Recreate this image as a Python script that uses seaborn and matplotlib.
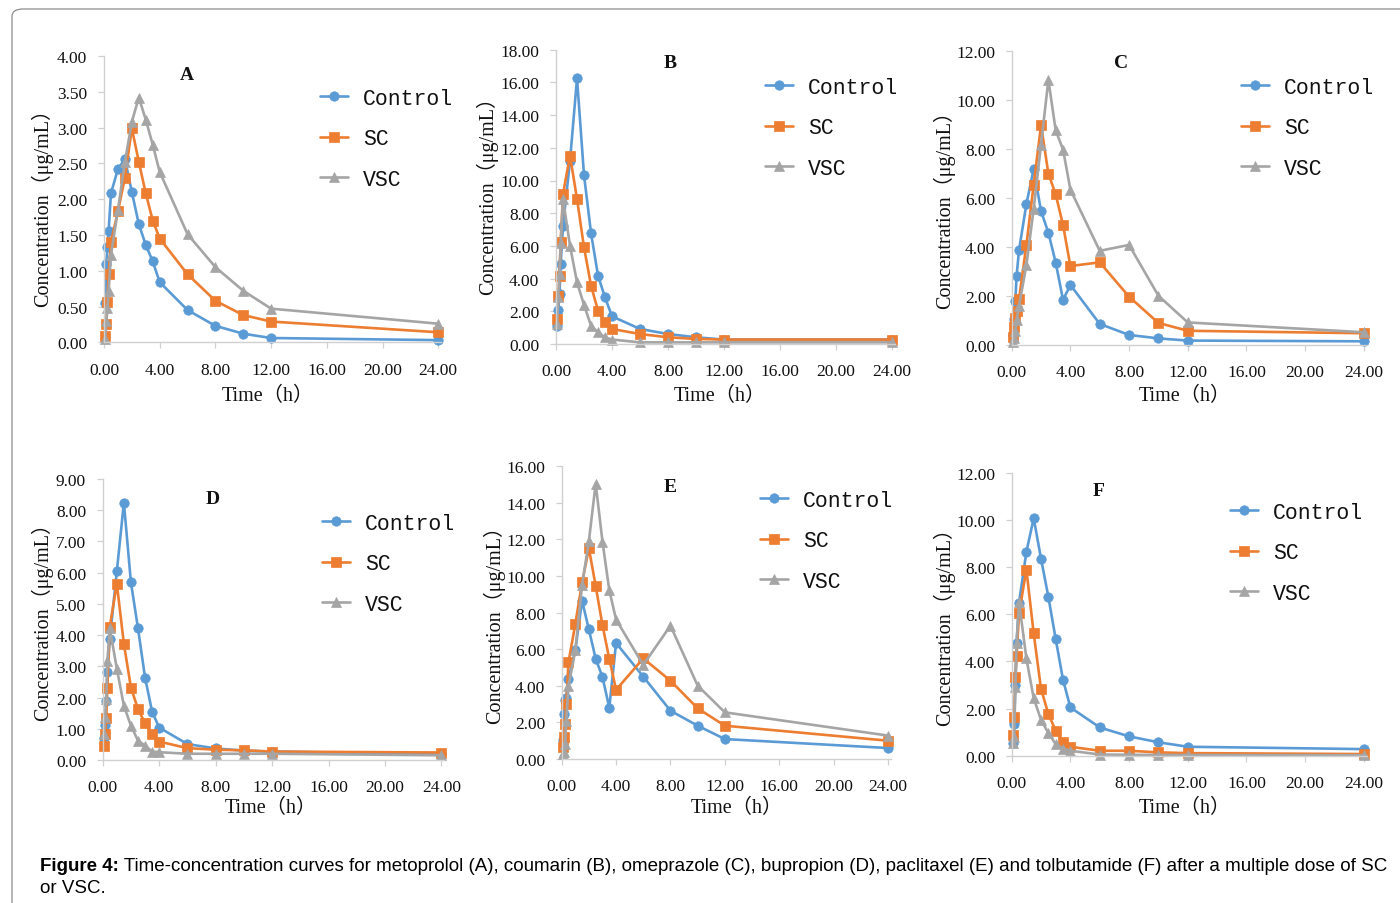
import numpy as np
import pandas as pd
import matplotlib
matplotlib.use("Agg")
import matplotlib.pyplot as plt
from matplotlib.patches import FancyBboxPatch
from matplotlib.ticker import MultipleLocator, FormatStrFormatter
import seaborn as sns

# sampling times (h)
times = [0.083, 0.167, 0.25, 0.333, 0.5, 1, 1.5, 2, 2.5, 3, 3.5, 4, 6, 8, 10, 12, 24]

groups = ["Control", "SC", "VSC"]

# A - metoprolol
a_control = [0.55, 1.10, 1.33, 1.56, 2.08, 2.42, 2.56, 2.10, 1.65, 1.36, 1.13, 0.84, 0.45, 0.23, 0.12, 0.06, 0.03]
a_sc = [0.09, 0.26, 0.57, 0.96, 1.40, 1.83, 2.30, 2.99, 2.52, 2.08, 1.70, 1.45, 0.95, 0.58, 0.38, 0.29, 0.14]
a_vsc = [0.05, 0.30, 0.48, 0.72, 1.22, 1.85, 2.52, 3.08, 3.42, 3.11, 2.76, 2.38, 1.51, 1.05, 0.72, 0.47, 0.26]

# B - coumarin
b_control = [1.12, 2.08, 3.06, 4.89, 7.24, 11.20, 16.25, 10.33, 6.79, 4.18, 2.85, 1.69, 0.92, 0.61, 0.41, 0.27, 0.27]
b_sc = [1.53, 2.96, 4.18, 6.22, 9.17, 11.52, 8.87, 5.91, 3.57, 2.04, 1.32, 0.92, 0.61, 0.41, 0.31, 0.27, 0.27]
b_vsc = [1.22, 2.90, 4.30, 6.20, 8.87, 6.01, 3.77, 2.39, 1.12, 0.71, 0.41, 0.27, 0.10, 0.10, 0.10, 0.10, 0.10]

# C - omeprazole
c_control = [0.40, 1.08, 1.80, 2.82, 3.87, 5.74, 7.18, 5.46, 4.58, 3.36, 1.84, 2.45, 0.86, 0.41, 0.27, 0.18, 0.15]
c_sc = [0.31, 0.75, 1.12, 1.40, 1.87, 4.07, 6.54, 8.96, 6.99, 6.14, 4.89, 3.22, 3.37, 1.97, 0.90, 0.58, 0.48]
c_vsc = [0.11, 0.30, 0.58, 1.00, 1.60, 3.25, 5.56, 8.17, 10.81, 8.75, 7.97, 6.34, 3.84, 4.08, 2.01, 0.92, 0.52]

# D - bupropion
d_control = [0.70, 1.12, 1.90, 2.83, 3.87, 6.04, 8.24, 5.69, 4.22, 2.64, 1.55, 1.04, 0.51, 0.37, 0.30, 0.27, 0.19]
d_sc = [0.45, 0.82, 1.34, 2.32, 4.26, 5.65, 3.72, 2.32, 1.63, 1.18, 0.82, 0.59, 0.38, 0.33, 0.31, 0.27, 0.24]
d_vsc = [0.83, 1.39, 1.95, 3.18, 4.22, 2.93, 1.74, 1.10, 0.62, 0.46, 0.27, 0.25, 0.20, 0.20, 0.20, 0.20, 0.15]

# E - paclitaxel
e_control = [1.04, 2.47, 3.25, 3.35, 4.39, 5.94, 8.65, 7.08, 5.48, 4.48, 2.80, 6.34, 4.50, 2.64, 1.82, 1.09, 0.60]
e_sc = [0.64, 1.20, 1.92, 3.00, 5.30, 7.37, 9.65, 11.52, 9.45, 7.31, 5.48, 3.78, 5.50, 4.28, 2.77, 1.82, 1.00]
e_vsc = [0.25, 0.37, 0.82, 2.10, 3.97, 5.94, 9.50, 11.92, 15.05, 11.88, 9.23, 7.62, 5.14, 7.29, 4.01, 2.55, 1.28]

# F - tolbutamide
f_control = [0.54, 1.34, 3.00, 4.80, 6.50, 8.65, 10.08, 8.36, 6.74, 4.95, 3.22, 2.05, 1.20, 0.82, 0.57, 0.38, 0.28]
f_sc = [0.86, 1.66, 3.36, 4.25, 6.04, 7.90, 5.19, 2.83, 1.77, 1.06, 0.57, 0.38, 0.21, 0.21, 0.14, 0.11, 0.07]
f_vsc = [0.55, 0.80, 2.93, 4.80, 6.53, 4.13, 2.44, 1.52, 0.96, 0.49, 0.30, 0.21, 0.05, 0.04, 0.03, 0.03, 0.02]

panel_letters = ["A", "B", "C", "D", "E", "F"]
panel_series = [
    (a_control, a_sc, a_vsc),
    (b_control, b_sc, b_vsc),
    (c_control, c_sc, c_vsc),
    (d_control, d_sc, d_vsc),
    (e_control, e_sc, e_vsc),
    (f_control, f_sc, f_vsc),
]
y_max = [4, 18, 12, 9, 16, 12]
y_step = [0.5, 2, 2, 1, 2, 2]

caption_bold = "Figure 4:"
caption_rest = (" Time-concentration curves for metoprolol (A), coumarin (B), omeprazole (C), "
                "bupropion (D), paclitaxel (E) and tolbutamide (F) after a multiple dose of SC")
caption_line2 = "or VSC."

# ---------------------------------------------------------------------------
W, H = 1400, 904
sns.set_theme(style="white")
plt.rcParams["font.family"] = ["Liberation Serif", "Noto Sans CJK SC", "DejaVu Sans"]

fig = plt.figure(figsize=(W / 100, H / 100), dpi=100)
fig.patch.set_facecolor("white")


def fx(px):
    return px / W


def fy(py):
    return 1 - py / H


# frame round the figure
frame = FancyBboxPatch((fx(12), fy(950)), fx(1450) - fx(12), fy(10) - fy(950),
                       boxstyle="round,pad=0,rounding_size=0.008",
                       transform=fig.transFigure, fill=False,
                       edgecolor="#8c8c8c", linewidth=0.9)
fig.patches.append(frame)

# axes boxes in pixels: left, top, right, bottom
boxes = [
    (104, 57, 441, 343.3),
    (556, 50.7, 895, 345),
    (1011.7, 51.7, 1366.7, 346),
    (102.7, 480, 444.3, 761),
    (561.7, 467.3, 890.7, 760),
    (1011.7, 474, 1366.7, 756.7),
]
legend_pos = [(320, 89), (765, 78), (1241, 78), (322, 514), (760, 491), (1230, 503)]
letter_pos = [(187, 75), (670, 63), (1121, 63), (213, 500), (670, 488), (1099, 491)]
ylabel_pos = [(42, 203), (487, 191), (944, 205), (42, 617), (494, 620), (944, 622)]
xlabel_pos = [(268, 396), (720, 396), (1185, 396), (271, 808), (737, 808), (1185, 808)]

palette = {"Control": "#5B9BD5", "SC": "#ED7D31", "VSC": "#A5A5A5"}
markers = {"Control": "o", "SC": "s", "VSC": "^"}
msize = {"Control": 6.8, "SC": 6.5, "VSC": 7.0}

for i, (l, t, r, b) in enumerate(boxes):
    ax = fig.add_axes([fx(l), fy(b), fx(r) - fx(l), fy(t) - fy(b)])
    ctrl, sc, vsc = panel_series[i]
    df = pd.DataFrame({
        "Time": times * 3,
        "Conc": ctrl + sc + vsc,
        "Group": ["Control"] * len(times) + ["SC"] * len(times) + ["VSC"] * len(times),
    })
    sns.lineplot(data=df, x="Time", y="Conc", hue="Group", style="Group",
                 hue_order=groups, style_order=groups, palette=palette,
                 markers=markers, dashes=False, linewidth=1.9,
                 legend=False, ax=ax, clip_on=False)
    for line, g in zip(ax.lines, groups):
        line.set_markeredgecolor(palette[g])
        line.set_markerfacecolor(palette[g])
        line.set_markersize(msize[g])
        line.set_markeredgewidth(0.5)

    ax.set_xlim(0, 24.2)
    ax.set_ylim(0, y_max[i])
    ax.xaxis.set_major_locator(MultipleLocator(4))
    ax.yaxis.set_major_locator(MultipleLocator(y_step[i]))
    ax.xaxis.set_major_formatter(FormatStrFormatter("%.2f"))
    ax.yaxis.set_major_formatter(FormatStrFormatter("%.2f"))
    ax.set_facecolor("white")
    for side in ("top", "right"):
        ax.spines[side].set_visible(False)
    for side in ("left", "bottom"):
        ax.spines[side].set_color("#d0d0d0")
        ax.spines[side].set_linewidth(1.0)
    ax.tick_params(axis="both", which="major", direction="out", length=4,
                   width=0.9, color="#d0d0d0", labelsize=12.5,
                   labelcolor="#111111", left=True, bottom=True)
    ax.tick_params(axis="x", pad=10)
    ax.tick_params(axis="y", pad=8)
    for lab in ax.get_xticklabels() + ax.get_yticklabels():
        lab.set_family("Liberation Serif")

    ax.set_ylabel("Concentration（μg/mL）", fontsize=14.5, color="#111111",
                  family=["Liberation Serif", "Noto Sans CJK SC"])
    ax.yaxis.set_label_coords(fx(ylabel_pos[i][0]), fy(ylabel_pos[i][1]),
                              transform=fig.transFigure)
    ax.set_xlabel("Time（h）", fontsize=14.5, color="#111111",
                  family=["Liberation Serif", "Noto Sans CJK SC"])
    ax.xaxis.set_label_coords(fx(xlabel_pos[i][0]), fy(xlabel_pos[i][1]),
                              transform=fig.transFigure)
    ax.xaxis.label.set_va("center")
    ax.yaxis.label.set_va("center")

    fig.text(fx(letter_pos[i][0]), fy(letter_pos[i][1]), panel_letters[i],
             ha="center", va="center", fontsize=14, fontweight="bold",
             family="Liberation Serif", color="#111111")

    leg = ax.legend(handles=ax.lines[:3], labels=groups,
                    loc="upper left",
                    bbox_to_anchor=(fx(legend_pos[i][0]), fy(legend_pos[i][1])),
                    bbox_transform=fig.transFigure, frameon=False,
                    prop={"family": "Liberation Mono", "size": 15.5},
                    handlelength=1.3, handletextpad=0.7, labelspacing=0.9,
                    borderpad=0, borderaxespad=0)
    for txt in leg.get_texts():
        txt.set_color("#111111")

# caption
fig.canvas.draw()
renderer = fig.canvas.get_renderer()
t1 = fig.text(fx(40), fy(867), caption_bold, fontsize=13.5, fontweight="bold",
              family="Liberation Sans", va="center", ha="left", color="black")
bb = t1.get_window_extent(renderer=renderer)
fig.text(bb.x1 / W, fy(867), caption_rest, fontsize=13.5,
         family="Liberation Sans", va="center", ha="left", color="black")
fig.text(fx(40), fy(889), caption_line2, fontsize=13.5,
         family="Liberation Sans", va="center", ha="left", color="black")

fig.savefig("out.png", dpi=100, facecolor="white")
